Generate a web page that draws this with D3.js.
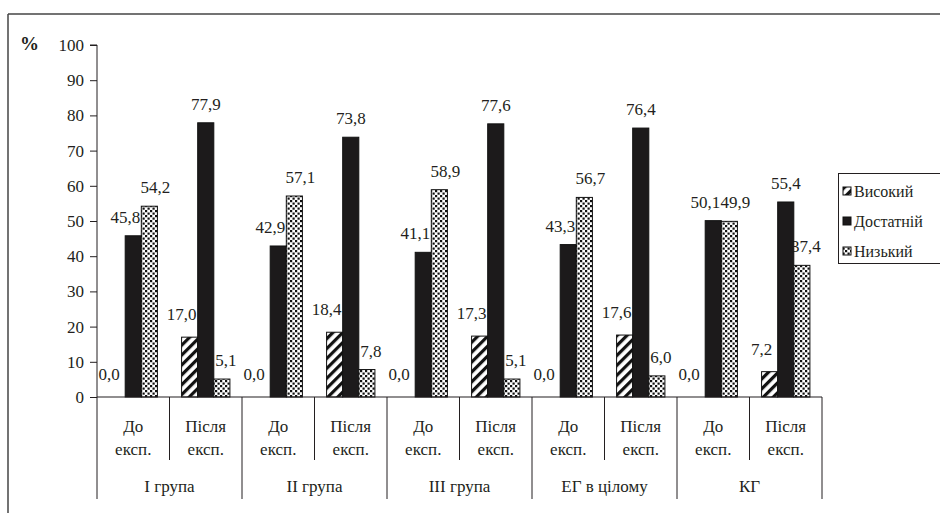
<!DOCTYPE html>
<html><head><meta charset="utf-8">
<script src="https://cdn.jsdelivr.net/npm/d3@7"></script>
</head>
<body style="margin:0;background:#fff">
<svg id="c" width="940" height="513"></svg>
<script>
const groups = ["І група", "ІІ група", "ІІІ група", "ЕГ в цілому", "КГ"];
const phases = [["До", "експ."], ["Після", "експ."]];
const seriesNames = ["Високий", "Достатній", "Низький"];
const vysokyi   = [0.0, 17.0, 0.0, 18.4, 0.0, 17.3, 0.0, 17.6, 0.0, 7.2];
const dostatnii = [45.8, 77.9, 42.9, 73.8, 41.1, 77.6, 43.3, 76.4, 50.1, 55.4];
const nyzkyi    = [54.2, 5.1, 57.1, 7.8, 58.9, 5.1, 56.7, 6.0, 49.9, 37.4];
const yTicks = [0,10,20,30,40,50,60,70,80,90,100];

const series = [vysokyi, dostatnii, nyzkyi];
const svg = d3.select("#c");
const defs = svg.append("defs");
const ph = defs.append("pattern").attr("id","hatch").attr("patternUnits","userSpaceOnUse")
  .attr("width",7).attr("height",7).attr("patternTransform","rotate(45)");
ph.append("rect").attr("width",7).attr("height",7).attr("fill","#fff");
ph.append("rect").attr("width",3.2).attr("height",7).attr("fill","#111");
const pd = defs.append("pattern").attr("id","dots").attr("patternUnits","userSpaceOnUse")
  .attr("width",5).attr("height",5);
pd.append("rect").attr("width",5).attr("height",5).attr("fill","#fff");
pd.append("rect").attr("x",0).attr("y",0).attr("width",2.2).attr("height",2.2).attr("fill","#111");
pd.append("rect").attr("x",2.5).attr("y",2.5).attr("width",2.2).attr("height",2.2).attr("fill","#111");
const fills = ["url(#hatch)", "#1c1a1b", "url(#dots)"];

svg.append("line").attr("x1",8).attr("x2",940).attr("y1",14).attr("y2",14).attr("stroke","#444").attr("stroke-width",1.5);
svg.append("line").attr("x1",8).attr("x2",8).attr("y1",14).attr("y2",513).attr("stroke","#444").attr("stroke-width",1.5);

const x0 = 97, x1 = 822;
const cats = d3.range(groups.length * phases.length);
const x = d3.scaleBand().domain(cats).range([x0, x1]).padding(0);
const y = d3.scaleLinear().domain([0,100]).range([397, 45]);
const bw = x.bandwidth() / 4.5;
const bx = (i, s) => x(i) + x.bandwidth()/2 - 1.5*bw + s*bw;

const ink = "#231f20";
// helper: serif text
const T = (parent, size) => parent.append("text")
  .style("font-family", '"Times New Roman"')
  .style("font-size", size + "px")
  .attr("fill", ink);

// y axis
const ya = svg.append("g").attr("transform",`translate(${x0},0)`)
  .call(d3.axisLeft(y).tickValues(yTicks).tickSize(7).tickFormat(""));
ya.select(".domain").attr("stroke",ink).attr("d",`M-7,${y(100)}H0V${y(0)}`);
ya.selectAll(".tick line").attr("stroke",ink);
ya.selectAll(".tick text").remove();
const yl = svg.append("g").attr("text-anchor","end");
yTicks.forEach(t => {
  T(yl, 17).attr("x", x0 - 13).attr("y", y(t) + 6).text(t);
});

T(svg, 19).attr("x",20).attr("y",50).attr("font-weight","bold").style("font-weight","bold").text("%");

// value labels
const lbl = svg.append("g").attr("text-anchor","middle");
series.forEach((vals, s) => {
  vals.forEach((v, i) => {
    const isBefore = i % 2 === 0;
    const dx = s === 0 ? -8 : (s === 1 ? (isBefore ? -8 : 0) : (isBefore ? 6 : 4));
    const off = s === 0 ? 17 : 13;
    T(lbl, 17).attr("x", bx(i,s) + bw/2 + dx).attr("y", y(v) - off)
      .text(d3.format(".1f")(v).replace(".", ","));
  });
});

// bars
series.forEach((vals, s) => {
  svg.append("g").selectAll("rect").data(vals).join("rect")
    .attr("x",(d,i)=>bx(i,s)).attr("width",bw)
    .attr("y",d=>y(d)).attr("height",d=>y(0)-y(d))
    .attr("fill",fills[s]).attr("stroke",d=>d>0?"#111":"none").attr("stroke-width",1);
});

// x axis and dividers
svg.append("line").attr("x1",x0).attr("x2",x1).attr("y1",y(0)).attr("y2",y(0)).attr("stroke",ink).attr("stroke-width",1.2);
const ax = svg.append("g").attr("stroke",ink).attr("stroke-width",1);
cats.forEach(i => {
  if (i % 2 === 1) ax.append("line").attr("x1",x(i)).attr("x2",x(i)).attr("y1",y(0)).attr("y2",460);
});
d3.range(groups.length + 1).forEach(g => {
  const xx = g < groups.length ? x(g*2) : x1;
  ax.append("line").attr("x1",xx).attr("x2",xx).attr("y1",y(0)).attr("y2",499);
});
const xl = svg.append("g").attr("text-anchor","middle");
cats.forEach(i => {
  const p = phases[i % 2];
  const cx = x(i) + x.bandwidth()/2;
  T(xl, 17).attr("x",cx).attr("y",432).text(p[0]);
  T(xl, 17).attr("x",cx).attr("y",455).text(p[1]);
});
groups.forEach((g, gi) => {
  T(xl, 17).attr("x", x(gi*2) + x.bandwidth()).attr("y",492).text(g);
});

// legend
const lg = svg.append("g");
lg.append("rect").attr("x",838.5).attr("y",173.5).attr("width",120).attr("height",90)
  .attr("fill","#fff").attr("stroke",ink).attr("stroke-width",1);
seriesNames.forEach((n, s) => {
  const yy = 197 + s*30;
  lg.append("rect").attr("x",843).attr("y",yy-10).attr("width",8).attr("height",8)
    .attr("fill",fills[s]).attr("stroke","#111").attr("stroke-width",1);
  T(lg, 16).attr("x",854).attr("y",yy).text(n);
});
</script></body></html>
